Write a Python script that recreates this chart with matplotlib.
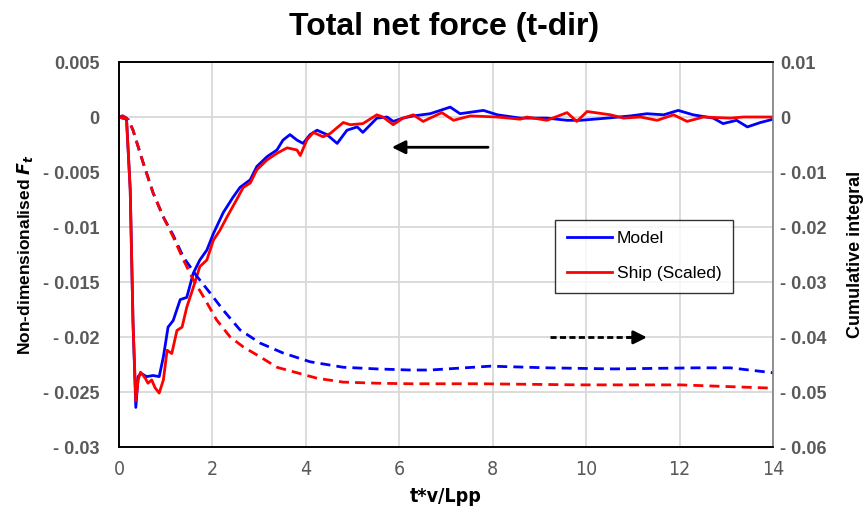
import matplotlib
matplotlib.use("Agg")
import matplotlib.pyplot as plt
from matplotlib.ticker import FuncFormatter
from matplotlib import font_manager

# ---------------- data ----------------
model_x = [0, 0.08, 0.16, 0.24, 0.3, 0.36, 0.41, 0.47, 0.59, 0.73, 0.86, 0.95, 1.05, 1.16, 1.31, 1.45,
           1.59, 1.73, 1.88, 2.02, 2.23, 2.44, 2.59, 2.81, 2.95, 3.17, 3.38, 3.51, 3.66, 3.81, 3.94,
           4.09, 4.24, 4.45, 4.67, 4.88, 5.1, 5.22, 5.52, 5.74, 5.87, 6.08, 6.3, 6.66, 7.09, 7.3, 7.8,
           8.1, 8.59, 9.16, 9.59, 9.88, 10.45, 10.95, 11.3, 11.66, 11.97, 12.29, 12.72, 12.93, 13.22,
           13.45, 13.73, 14]
model_f = [0, 0.0001, -0.0001, -0.0066, -0.0187, -0.0264, -0.0236, -0.0233, -0.0236, -0.0235, -0.0236,
           -0.0218, -0.0191, -0.0185, -0.0166, -0.0164, -0.0142, -0.013, -0.0121, -0.0106, -0.0087,
           -0.0073, -0.0064, -0.0057, -0.0045, -0.0036, -0.003, -0.0021, -0.0016, -0.0021, -0.0024,
           -0.0016, -0.0012, -0.0016, -0.0024, -0.0012, -0.0009, -0.0014, -0.0001, 0, -0.0004, -0.0001,
           0.0001, 0.0003, 0.0009, 0.0003, 0.0006, 0.0002, -0.0001, -0.0001, -0.0003, -0.0003, -0.0001,
           0.0001, 0.0003, 0.0002, 0.0006, 0.0002, -0.0001, -0.0006, -0.0003, -0.0009, -0.0005, -0.0002]

ship_x = [0, 0.08, 0.16, 0.24, 0.3, 0.36, 0.41, 0.46, 0.52, 0.57, 0.62, 0.7, 0.77, 0.86, 0.95, 1.03,
          1.13, 1.24, 1.35, 1.45, 1.59, 1.73, 1.88, 2.02, 2.16, 2.31, 2.52, 2.66, 2.81, 2.95, 3.17,
          3.38, 3.6, 3.81, 3.88, 4.02, 4.16, 4.37, 4.52, 4.8, 4.95, 5.22, 5.52, 5.65, 5.87, 6.08, 6.3,
          6.51, 6.91, 7.16, 7.52, 8.09, 8.59, 8.73, 9.16, 9.59, 9.8, 10.02, 10.52, 10.8, 11.16, 11.52,
          11.87, 12.16, 12.51, 13.08, 13.37, 13.8, 14]
ship_f = [0, 0.0001, -0.0001, -0.0066, -0.0187, -0.0258, -0.0239, -0.0232, -0.0235, -0.0238, -0.0242,
          -0.0239, -0.0246, -0.0251, -0.0239, -0.0212, -0.0215, -0.0194, -0.0191, -0.0173, -0.0155,
          -0.0136, -0.013, -0.0112, -0.0103, -0.0091, -0.0075, -0.0064, -0.006, -0.0048, -0.0039,
          -0.0033, -0.0028, -0.003, -0.0035, -0.0021, -0.0014, -0.0018, -0.0015, -0.0005, -0.0007,
          -0.0006, 0.0002, 0, -0.0007, -0.0001, 0.0002, -0.0004, 0.0004, -0.0003, 0.0001, 0, -0.0002,
          0, -0.0003, 0.0004, -0.0004, 0.0005, 0.0002, -0.0001, 0, -0.0003, 0.0002, -0.0004, 0,
          -0.0001, 0, 0, 0]

model_cum_x = [0, 0.2, 0.3, 0.52, 0.73, 0.95, 1.16, 1.38, 1.67, 1.95, 2.23, 2.59, 3.02, 3.51, 4.09,
               4.8, 5.52, 6.23, 6.66, 7.95, 9.16, 10.59, 12.37, 13.08, 14]
model_cum = [0, -0.0005, -0.0024, -0.0084, -0.0138, -0.0182, -0.0215, -0.0255, -0.029, -0.032,
             -0.0351, -0.0387, -0.0411, -0.0429, -0.0445, -0.0455, -0.0458, -0.046, -0.046, -0.0453,
             -0.0456, -0.0458, -0.0456, -0.0456, -0.0465]

ship_cum_x = [0, 0.2, 0.3, 0.52, 0.73, 0.95, 1.16, 1.38, 1.59, 1.81, 2.09, 2.38, 2.66, 3.02, 3.38,
              3.81, 4.24, 4.8, 5.52, 6.23, 7.73, 9.87, 12.01, 14]
ship_cum = [0, -0.0005, -0.0024, -0.0084, -0.0138, -0.0182, -0.0218, -0.026, -0.0296, -0.0327,
            -0.0369, -0.04, -0.0418, -0.0436, -0.0455, -0.0465, -0.0475, -0.0482, -0.0484, -0.0485,
            -0.0485, -0.0487, -0.0487, -0.0493]

x_ticks = [0, 2, 4, 6, 8, 10, 12, 14]
left_ticks = [0.005, 0, -0.005, -0.01, -0.015, -0.02, -0.025, -0.03]
right_ticks = [0.01, 0, -0.01, -0.02, -0.03, -0.04, -0.05, -0.06]

# annotation arrows (left-axis data units): start x, end x, y
solid_arrow = [7.9, 5.84, -0.00275]
dashed_arrow = [9.23, 11.3, -0.02003]

# ---------------- style ----------------
BLUE = "#0000ff"
RED = "#ff0000"
GRAY = "#595959"
GRID = "#d9d9d9"
FONT = ["Liberation Sans", "DejaVu Sans"]
plt.rcParams["font.family"] = FONT

_names = {f.name for f in font_manager.fontManager.ttflist}
if "Liberation Sans Narrow" in _names:
    NARROW = dict(family=["Liberation Sans Narrow", "DejaVu Sans"])
else:
    NARROW = dict(family=["DejaVu Sans"], stretch="condensed")


def fmt(v, pos=None):
    if abs(v) < 1e-12:
        return "0"
    if v < 0:
        return "- " + f"{-v:g}"
    return f"{v:g}"


fig = plt.figure(figsize=(8.68, 5.15), dpi=100)
ax = fig.add_axes([0.1371, 0.1320, 0.7535, 0.7476])
ax2 = ax.twinx()

ax.set_xlim(0, 14)
ax.set_ylim(-0.03, 0.005)
ax2.set_ylim(-0.06, 0.01)

ax.set_xticks(x_ticks)
ax.set_yticks(left_ticks)
ax2.set_yticks(right_ticks)
ax.yaxis.set_major_formatter(FuncFormatter(fmt))
ax2.yaxis.set_major_formatter(FuncFormatter(fmt))

ax.grid(True, color=GRID, lw=1.3)
ax.set_axisbelow(True)

ax.tick_params(axis="x", length=0, pad=9, labelcolor=GRAY)
ax.tick_params(axis="y", length=0, pad=14, labelsize=13, labelcolor=GRAY)
ax2.tick_params(axis="y", length=0, pad=5, labelsize=13, labelcolor=GRAY)
for lab in ax.get_yticklabels() + ax2.get_yticklabels():
    lab.set_fontweight("bold")
for lab in ax.get_xticklabels():
    lab.set_fontproperties(font_manager.FontProperties(size=14, **NARROW))
    lab.set_color(GRAY)

for s in ["left", "top", "bottom"]:
    ax.spines[s].set_color("black")
    ax.spines[s].set_linewidth(1.2)
    ax2.spines[s].set_color("black")
    ax2.spines[s].set_linewidth(1.2)
ax2.spines["right"].set_color("#7f7f7f")
ax2.spines["right"].set_linewidth(1.2)
ax.spines["right"].set_visible(False)

lw = 2.0
ax.plot(model_x, model_f, color=BLUE, lw=lw, label="Model", zorder=3)
ax.plot(ship_x, ship_f, color=RED, lw=lw, label="Ship (Scaled)", zorder=4)
ax2.plot(model_cum_x, model_cum, color=BLUE, lw=lw, dashes=(3.6, 2.2))
ax2.plot(ship_cum_x, ship_cum, color=RED, lw=lw, dashes=(3.6, 2.2))

# arrows
ax2.annotate("", xy=(solid_arrow[1], solid_arrow[2]), xytext=(solid_arrow[0], solid_arrow[2]),
             xycoords=ax.transData, textcoords=ax.transData,
             arrowprops=dict(arrowstyle="-|>", color="black", lw=2, mutation_scale=20,
                             shrinkA=0, shrinkB=0))
ax2.plot([dashed_arrow[0], dashed_arrow[1] - 0.35], [dashed_arrow[2]] * 2, transform=ax.transData,
         color="black", lw=2, dashes=(2.2, 1.2))
ax2.annotate("", xy=(dashed_arrow[1], dashed_arrow[2]), xytext=(dashed_arrow[1] - 0.4, dashed_arrow[2]),
             xycoords=ax.transData, textcoords=ax.transData,
             arrowprops=dict(arrowstyle="-|>", color="black", lw=2, mutation_scale=20,
                             shrinkA=0, shrinkB=0))

leg = ax2.legend(*ax.get_legend_handles_labels(), loc="upper left", bbox_to_anchor=(0.667, 0.59),
                 borderaxespad=0, frameon=True, fancybox=False, edgecolor="black", fontsize=12.5,
                 handlelength=2.6, labelspacing=1.15, borderpad=0.65, handletextpad=0.3)
leg.get_frame().set_linewidth(1.0)

fig.text(0.512, 0.948, "Total net force (t-dir)", fontsize=23, fontweight="bold",
         ha="center", va="center")
ax.set_xlabel("t*v/Lpp", fontproperties=font_manager.FontProperties(size=14, weight="bold", **NARROW),
              labelpad=6)
ax.set_ylabel(r"Non-dimensionalised $\mathbfit{F}_{\mathbfit{t}}$", fontsize=12.5, fontweight="bold",
              labelpad=6)
ax2.set_ylabel("Cumulative integral", fontsize=13, fontweight="bold", labelpad=15)

fig.savefig("out.png", dpi=100)
